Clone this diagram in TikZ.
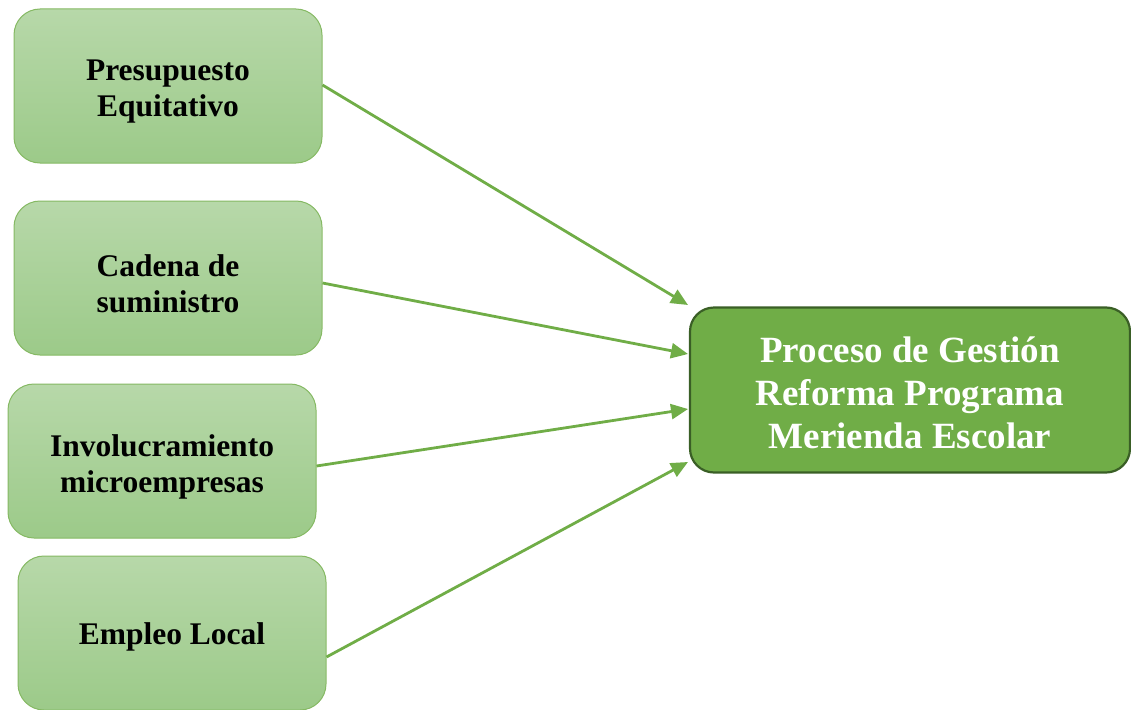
\documentclass[tikz,border=0pt]{standalone}
\usepackage{fontspec}
\setmainfont{Liberation Serif}
\usetikzlibrary{arrows.meta,calc}
\definecolor{gmain}{HTML}{70AD47}
\definecolor{gdark}{HTML}{3A5F26}
\definecolor{gtop}{HTML}{B7D8A9}
\definecolor{gbot}{HTML}{9CCA89}
\definecolor{gline}{HTML}{70AD47}
\newcommand{\srctext}[2][-6pt]{\raisebox{#1}[\height][\depth]{\parbox{300pt}{\centering\fontsize{31.5}{36}\selectfont\bfseries #2}}}
\newcommand{\maintext}[1]{\raisebox{-3pt}[\height][\depth]{\parbox{430pt}{\centering\fontsize{37}{43}\selectfont\bfseries #1}}}
\begin{document}
\begin{tikzpicture}[x=1pt,y=-1pt,
  srcbox/.style={draw=gline!85!white, line width=1pt, rounded corners=26pt,
    top color=gtop, bottom color=gbot, minimum width=308pt, minimum height=154pt,
    align=center, text=black, inner sep=0pt},
  mainbox/.style={draw=gdark, line width=2.2pt, fill=gmain, rounded corners=24pt,
    minimum width=440pt, minimum height=165pt, align=center,
    text=white, inner sep=0pt},
  conn/.style={draw=gline, line width=2.8pt, -{Triangle[length=17pt,width=15pt]}}]
\useasboundingbox (0,0) rectangle (1131,709);
\node[srcbox] (b1) at (168,86) {\srctext{Presupuesto\\Equitativo}};
\node[srcbox] (b2) at (168,278) {\srctext{Cadena de\\suministro}};
\node[srcbox] (b3) at (162,461) {\srctext{Involucramiento\\microempresas}};
\node[srcbox] (b4) at (172,633) {\srctext[-4pt]{Empleo Local}};
\node[mainbox] (m) at (910,390) {\maintext{Proceso de Gestión\\Reforma Programa\\Merienda Escolar}};
\coordinate (t1) at (688,305);
\coordinate (t2) at (688,354);
\coordinate (t3) at (688,409);
\coordinate (t4) at (688,462);
\draw[conn] (b1.east |- 0,85) -- (t1);
\draw[conn] (b2.east |- 0,283) -- (t2);
\draw[conn] (b3.east |- 0,466) -- (t3);
\draw[conn] (b4.east |- 0,657) -- (t4);
\end{tikzpicture}
\end{document}
